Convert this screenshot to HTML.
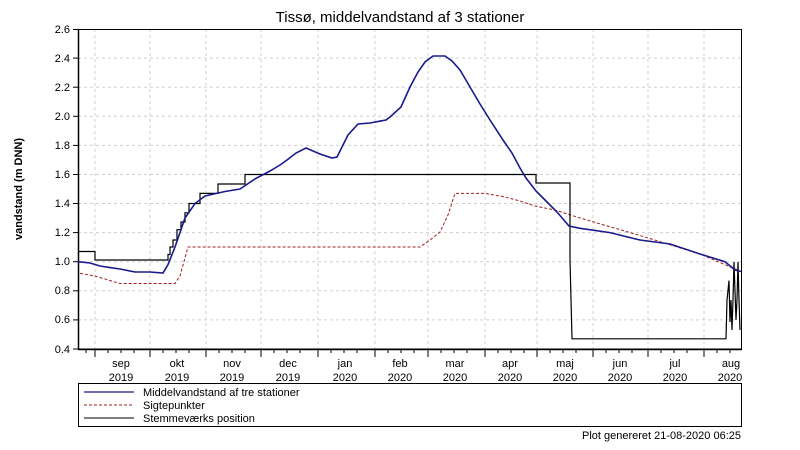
<!DOCTYPE html>
<html><head><meta charset="utf-8"><style>
html,body{margin:0;padding:0;background:#fff;}
svg{display:block;font-family:"Liberation Sans",sans-serif;}
</style></head><body>
<svg width="800" height="450" viewBox="0 0 800 450" xmlns="http://www.w3.org/2000/svg">
<rect width="800" height="450" fill="#fff"/>
<text x="400" y="22" font-size="15" text-anchor="middle" fill="#000">Tissø, middelvandstand af 3 stationer</text>
<g stroke="#d0d0d0" stroke-dasharray="3,3" stroke-width="1">
<line x1="78" x2="742" y1="58.1" y2="58.1"/><line x1="78" x2="742" y1="87.2" y2="87.2"/>
<line x1="78" x2="742" y1="116.3" y2="116.3"/><line x1="78" x2="742" y1="145.4" y2="145.4"/>
<line x1="78" x2="742" y1="174.5" y2="174.5"/><line x1="78" x2="742" y1="203.5" y2="203.5"/>
<line x1="78" x2="742" y1="232.6" y2="232.6"/><line x1="78" x2="742" y1="261.7" y2="261.7"/>
<line x1="78" x2="742" y1="290.8" y2="290.8"/><line x1="78" x2="742" y1="319.9" y2="319.9"/>
<line x1="95" x2="95" y1="29" y2="349"/><line x1="150" x2="150" y1="29" y2="349"/>
<line x1="206" x2="206" y1="29" y2="349"/><line x1="261" x2="261" y1="29" y2="349"/>
<line x1="318" x2="318" y1="29" y2="349"/><line x1="375" x2="375" y1="29" y2="349"/>
<line x1="428" x2="428" y1="29" y2="349"/><line x1="485" x2="485" y1="29" y2="349"/>
<line x1="537" x2="537" y1="29" y2="349"/><line x1="593" x2="593" y1="29" y2="349"/>
<line x1="648" x2="648" y1="29" y2="349"/><line x1="704" x2="704" y1="29" y2="349"/>
</g>
<rect x="78.5" y="29.5" width="663" height="319.5" fill="none" stroke="#000" stroke-width="1"/>
<line x1="78.5" y1="29" x2="78.5" y2="349" stroke="#000" stroke-width="1.5"/>
<line x1="78" y1="349.5" x2="742" y2="349.5" stroke="#000" stroke-width="1.5"/>
<g stroke="#000"><line x1="73" x2="78" y1="29.5" y2="29.5"/><line x1="73" x2="78" y1="58.1" y2="58.1"/><line x1="73" x2="78" y1="87.2" y2="87.2"/><line x1="73" x2="78" y1="116.3" y2="116.3"/><line x1="73" x2="78" y1="145.4" y2="145.4"/><line x1="73" x2="78" y1="174.5" y2="174.5"/><line x1="73" x2="78" y1="203.5" y2="203.5"/><line x1="73" x2="78" y1="232.6" y2="232.6"/><line x1="73" x2="78" y1="261.7" y2="261.7"/><line x1="73" x2="78" y1="290.8" y2="290.8"/><line x1="73" x2="78" y1="319.9" y2="319.9"/><line x1="73" x2="78" y1="349" y2="349"/></g>
<g font-size="11" text-anchor="end" fill="#000">
<text x="70" y="33">2.6</text><text x="70" y="62">2.4</text><text x="70" y="91">2.2</text><text x="70" y="120">2.0</text><text x="70" y="149">1.8</text><text x="70" y="178">1.6</text><text x="70" y="207">1.4</text><text x="70" y="236">1.2</text><text x="70" y="265">1.0</text><text x="70" y="294">0.8</text><text x="70" y="323">0.6</text><text x="70" y="353">0.4</text>
</g>
<text transform="translate(22,189) rotate(-90)" font-size="11" font-weight="bold" text-anchor="middle">vandstand (m DNN)</text>
<g stroke="#000">
<line x1="95" x2="95" y1="349" y2="357"/><line x1="150" x2="150" y1="349" y2="357"/><line x1="206" x2="206" y1="349" y2="357"/><line x1="261" x2="261" y1="349" y2="357"/><line x1="318" x2="318" y1="349" y2="357"/><line x1="375" x2="375" y1="349" y2="357"/><line x1="428" x2="428" y1="349" y2="357"/><line x1="485" x2="485" y1="349" y2="357"/><line x1="537" x2="537" y1="349" y2="357"/><line x1="593" x2="593" y1="349" y2="357"/><line x1="648" x2="648" y1="349" y2="357"/><line x1="704" x2="704" y1="349" y2="357"/>
</g>
<g font-size="11" text-anchor="middle" fill="#000">
<text x="121" y="367">sep</text><text x="121" y="381">2019</text>
<text x="177" y="367">okt</text><text x="177" y="381">2019</text>
<text x="232" y="367">nov</text><text x="232" y="381">2019</text>
<text x="288" y="367">dec</text><text x="288" y="381">2019</text>
<text x="345" y="367">jan</text><text x="345" y="381">2020</text>
<text x="400" y="367">feb</text><text x="400" y="381">2020</text>
<text x="455" y="367">mar</text><text x="455" y="381">2020</text>
<text x="510" y="367">apr</text><text x="510" y="381">2020</text>
<text x="565" y="367">maj</text><text x="565" y="381">2020</text>
<text x="620" y="367">jun</text><text x="620" y="381">2020</text>
<text x="675" y="367">jul</text><text x="675" y="381">2020</text>
<text x="731" y="367">aug</text><text x="730" y="381">2020</text>
</g>
<polyline fill="none" stroke="#a02020" stroke-width="1" stroke-dasharray="3,2" points="80,273.3 95,276 120,283.5 175,283.5 180,276 188,247 420,247 430,240 440,232 448,215 455,193.4 485,193.4 505,197 520,201 535,206 555,210 580,218 640,235.5 700,254 741,271.5"/>
<polyline fill="none" stroke="#000" stroke-width="1.2" points="78,251.5 95,251.5 95,260 168,260 168,254.5 170,254.5 170,247 173,247 173,240 177,240 177,229.7 181,229.7 181,222 185,222 185,212.8 189,212.8 189,203.5 200,203.5 200,193.4 218,193.4 218,184 245,184 245,174.5 536,174.5 536,183 570,183 570,260 572,338.8 726,338.8 727,300 729,280.6 730,322 731,300 732,330 733,300 734,262 736,320 737,300 738,262 739,300 740,330"/>
<polyline fill="none" stroke="#1a1a8c" stroke-width="1.6" points="78,261.7 90,263 100,266 110,267.6 120,269 135,272 150,272 163,273 168,264.6 175,247 185,218 195,203.5 205,196 225,191.5 240,189 255,178.9 270,171 280,165 287,160 296,153 306,148 320,154 332,158 337,157 343,145 348,135 358,124 370,123 386,120 390,117 401,107 410,87 418,72 425,62 433,56 445,56 452,61 460,70 470,87 480,104 490,120 503,140 512,153 520,168 526,178 536,191 545,200 557,212 569,226 580,228.3 610,232.6 640,240 670,244 700,254 725,261.7 735,270 741,271.5"/>
<rect x="78.5" y="383.5" width="663" height="43" fill="none" stroke="#000"/>
<line x1="84" x2="134" y1="392" y2="392" stroke="#1a1a8c" stroke-width="1.2"/>
<line x1="84" x2="134" y1="405" y2="405" stroke="#a02020" stroke-dasharray="3,2"/>
<line x1="84" x2="134" y1="418" y2="418" stroke="#000"/>
<g font-size="11" fill="#000">
<text x="143" y="396">Middelvandstand af tre stationer</text>
<text x="143" y="409">Sigtepunkter</text>
<text x="143" y="422">Stemmeværks position</text>
<text x="741" y="439" text-anchor="end">Plot genereret 21-08-2020 06:25</text>
</g>
<g stroke="#000">
<line x1="86" x2="86" y1="349" y2="353"/><line x1="108" x2="108" y1="349" y2="353"/><line x1="121" x2="121" y1="349" y2="353"/><line x1="134" x2="134" y1="349" y2="353"/>
<line x1="163" x2="163" y1="349" y2="353"/><line x1="176" x2="176" y1="349" y2="353"/><line x1="189" x2="189" y1="349" y2="353"/>
<line x1="219" x2="219" y1="349" y2="353"/><line x1="232" x2="232" y1="349" y2="353"/><line x1="245" x2="245" y1="349" y2="353"/>
<line x1="274" x2="274" y1="349" y2="353"/><line x1="287" x2="287" y1="349" y2="353"/><line x1="300" x2="300" y1="349" y2="353"/>
<line x1="331" x2="331" y1="349" y2="353"/><line x1="344" x2="344" y1="349" y2="353"/><line x1="357" x2="357" y1="349" y2="353"/>
<line x1="388" x2="388" y1="349" y2="353"/><line x1="401" x2="401" y1="349" y2="353"/><line x1="414" x2="414" y1="349" y2="353"/>
<line x1="441" x2="441" y1="349" y2="353"/><line x1="454" x2="454" y1="349" y2="353"/><line x1="467" x2="467" y1="349" y2="353"/>
<line x1="498" x2="498" y1="349" y2="353"/><line x1="511" x2="511" y1="349" y2="353"/><line x1="524" x2="524" y1="349" y2="353"/>
<line x1="550" x2="550" y1="349" y2="353"/><line x1="563" x2="563" y1="349" y2="353"/><line x1="576" x2="576" y1="349" y2="353"/>
<line x1="606" x2="606" y1="349" y2="353"/><line x1="619" x2="619" y1="349" y2="353"/><line x1="632" x2="632" y1="349" y2="353"/>
<line x1="661" x2="661" y1="349" y2="353"/><line x1="674" x2="674" y1="349" y2="353"/><line x1="687" x2="687" y1="349" y2="353"/>
<line x1="717" x2="717" y1="349" y2="353"/><line x1="730" x2="730" y1="349" y2="353"/>
</g>
</svg>
</body></html>
